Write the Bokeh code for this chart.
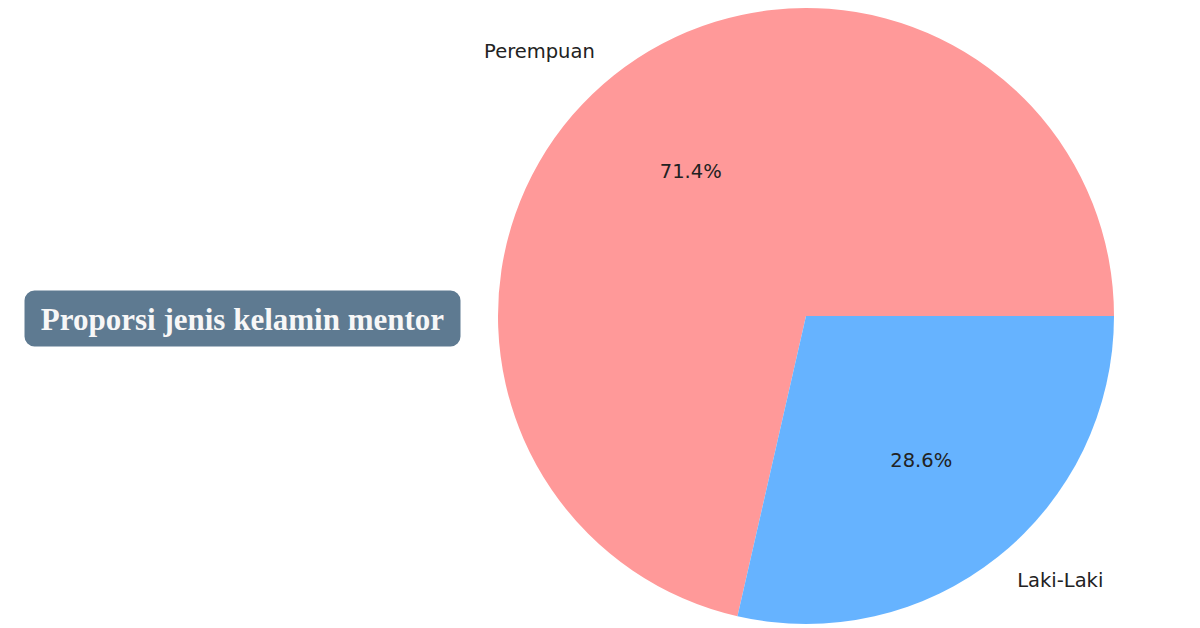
import numpy as np
from bokeh.plotting import figure
from bokeh.models import Range1d, Label, BoxAnnotation, ColumnDataSource
from bokeh.core.properties import value
from bokeh.embed import file_html
from bokeh.resources import INLINE

categories = ["Perempuan", "Laki-Laki"]
counts = [5, 2]
colors = ["#ff9999", "#66b3ff"]
title_text = "Proporsi jenis kelamin mentor"

W, H = 1200, 628
p = figure(width=W, height=H, x_range=Range1d(0, W), y_range=Range1d(628 - H, 628),
           output_backend="svg", toolbar_location=None, min_border=0)
p.axis.visible = False
p.grid.visible = False
p.outline_line_color = None
p.background_fill_color = "white"
p.border_fill_color = "white"

cx, cy, r = 805.5, 628 - 315.5, 308.0

vals = np.array(counts, dtype=float)
frac = vals / vals.sum()
ends = np.cumsum(frac) * 2 * np.pi
starts = np.concatenate([[0.0], ends[:-1]])
mids = (starts + ends) / 2

src = ColumnDataSource(dict(start=starts, end=ends, color=colors))
p.wedge(x=cx, y=cy, radius=r, start_angle="start", end_angle="end",
        fill_color="color", line_color=None, source=src)

# category labels at 1.1 r
lx = cx + 1.1 * r * np.cos(mids)
ly = cy + 1.1 * r * np.sin(mids)
align = ["right" if x < cx else "left" for x in lx]
p.text(x=lx, y=ly, text=categories, text_align=align, text_baseline="middle",
       text_font=value("DejaVu Sans"), text_font_size="19.5px", text_color="#222222")

# pct labels at 0.6 r
px_ = cx + 0.6 * r * np.cos(mids)
py_ = cy + 0.6 * r * np.sin(mids)
pct = ["%.1f%%" % (f * 100) for f in frac]
p.text(x=px_, y=py_, text=pct, text_align="center", text_baseline="middle",
       text_font=value("DejaVu Sans"), text_font_size="19.5px", text_color="#222222")

# title box
box = BoxAnnotation(left=24, right=460, top=628 - 290, bottom=628 - 346,
                    fill_color="#5e7a91", fill_alpha=1.0, line_color=None,
                    border_radius=10)
p.add_layout(box)
p.add_layout(Label(x=242, y=628 - 319, text=title_text, text_align="center",
                   text_baseline="middle", text_font="Liberation Serif",
                   text_font_style="bold", text_font_size="31px", text_color="#f7f7f7"))

open("out.html", "w").write(file_html(p, INLINE))
